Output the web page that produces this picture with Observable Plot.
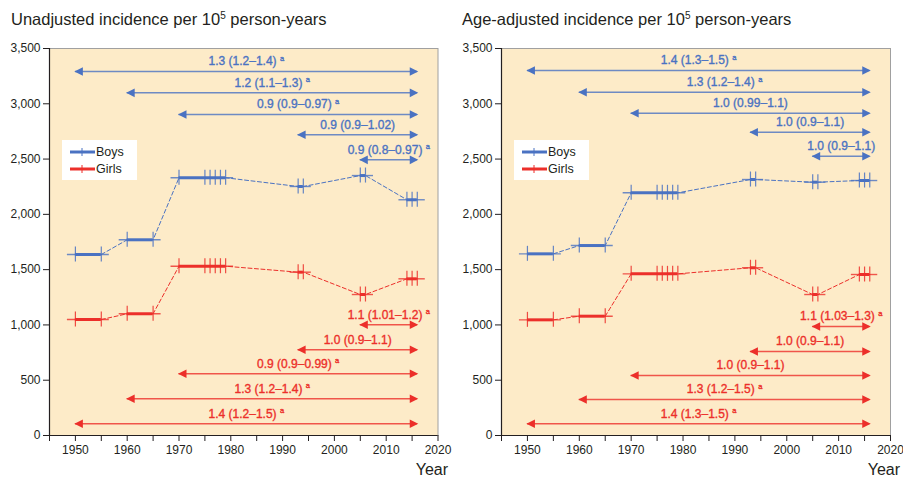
<!DOCTYPE html>
<html>
<head>
<meta charset="utf-8">
<script src="https://cdn.jsdelivr.net/npm/d3@7"></script>
<script src="https://cdn.jsdelivr.net/npm/@observablehq/plot@0.6"></script>
<style>
  body { margin: 0; background: #fff; font-family: "Liberation Sans", Arial, Helvetica, sans-serif; }
  #wrap { position: relative; width: 903px; height: 478px; overflow: hidden; }
  .panel { position: absolute; top: 0; height: 478px; }
  .title { position: absolute; top: 9px; font-size: 16.5px; line-height: 20px; color: #231f20; white-space: nowrap; }
  .title sup { font-size: 10px; line-height: 0; vertical-align: 6px; }
  .svgbox { position: absolute; top: 36px; left: 0; }
  .year { position: absolute; top: 461px; right: 3px; font-size: 16px; line-height: 18px; color: #231f20; }
  .legend { position: absolute; background: #fff; width: 75px; height: 40px; top: 140px; }
  .legend svg { position: absolute; left: 0; top: 0; }
</style>
</head>
<body>
<div id="wrap"></div>
<script>
// ---- Data ----
const titles = ["Unadjusted incidence per 10|5| person-years", "Age-adjusted incidence per 10|5| person-years"];
const seriesNames = ["Boys", "Girls"];
// survey years grouped by study period
const periodYears = [
  [1950, 1955],
  [1960, 1965],
  [1970, 1975, 1976, 1977, 1978, 1979],
  [1993, 1994],
  [2005, 2006],
  [2014, 2015, 2016]
];
// incidence per 100,000 person-years, one value per period
const unadjBoys  = [1637, 1770, 2331, 2252, 2351, 2132];
const unadjGirls = [1049, 1101, 1531, 1477, 1275, 1417];
const adjBoys    = [1643, 1718, 2195, 2315, 2291, 2306];
const adjGirls   = [1046, 1079, 1462, 1517, 1275, 1456];

// rate-ratio comparisons (period start year -> 2016)
const compareEnd = 2016;
const boysStarts  = [1950, 1960, 1970, 1993, 2005];
const girlsStarts = [2005, 1993, 1970, 1960, 1950];
const unadjBoysLevel  = [3292, 3099, 2903, 2720, 2493];
const unadjGirlsLevel = [1001, 775, 558, 332, 106];
const adjBoysLevel    = [3301, 3105, 2915, 2743, 2526];
const adjGirlsLevel   = [986, 760, 543, 326, 106];
const unadjBoysRR  = ["1.3 (1.2–1.4)", "1.2 (1.1–1.3)", "0.9 (0.9–0.97)", "0.9 (0.9–1.02)", "0.9 (0.8–0.97)"];
const unadjBoysSig = [true, true, true, false, true];
const unadjGirlsRR  = ["1.1 (1.01–1.2)", "1.0 (0.9–1.1)", "0.9 (0.9–0.99)", "1.3 (1.2–1.4)", "1.4 (1.2–1.5)"];
const unadjGirlsSig = [true, false, true, true, true];
const adjBoysRR  = ["1.4 (1.3–1.5)", "1.3 (1.2–1.4)", "1.0 (0.99–1.1)", "1.0 (0.9–1.1)", "1.0 (0.9–1.1)"];
const adjBoysSig = [true, true, false, false, false];
const adjGirlsRR  = ["1.1 (1.03–1.3)", "1.0 (0.9–1.1)", "1.0 (0.9–1.1)", "1.3 (1.2–1.5)", "1.4 (1.3–1.5)"];
const adjGirlsSig = [true, false, false, true, true];

// axes
const xDomain = [1945, 2020];
const yDomain = [0, 3500];
const xTicks = d3.range(1945, 2021, 5);
const yTicks = d3.range(0, 3501, 500);

// ---- Style ----
const BLUE = "#4a72c2";
const RED = "#ec2f2a";
const BG = "#fdebc8";
const INK = "#231f20";

const rightHead = { draw(ctx) { ctx.moveTo(1, 0); ctx.lineTo(-7.5, -4.3); ctx.lineTo(-7.5, 4.3); ctx.closePath(); } };
const leftHead  = { draw(ctx) { ctx.moveTo(-1, 0); ctx.lineTo(7.5, -4.3); ctx.lineTo(7.5, 4.3); ctx.closePath(); } };

function seriesMarks(values, color) {
  const groups = periodYears.map((ys, i) => ({ min: ys[0], max: ys[ys.length - 1], value: values[i], years: ys }));
  const ends = groups.flatMap(g => [{ x: g.min, y: g.value }, { x: g.max, y: g.value }]);
  const ticks = groups.flatMap(g => g.years.map(x => ({ x, y: g.value })));
  return [
    Plot.line(ends, { x: "x", y: "y", stroke: color, strokeWidth: 1, strokeDasharray: "4,2.5" }),
    Plot.ruleY(groups, { y: "value", x1: "min", x2: "max", insetLeft: -8, insetRight: -8, stroke: color, strokeWidth: 1.4, strokeOpacity: 0.8 }),
    Plot.ruleY(groups, { y: "value", x1: "min", x2: "max", stroke: color, strokeWidth: 3 }),
    Plot.ruleX(ticks, { x: "x", y1: "y", y2: "y", insetTop: -7.5, insetBottom: -7.5, stroke: color, strokeWidth: 1.2, strokeOpacity: 0.85 })
  ];
}

function arrowMarks(starts, levels, labels, sig, color) {
  const rows = starts.map((s, i) => ({ start: s, end: compareEnd, level: levels[i], label: labels[i] + (sig[i] ? "ᵃ" : ""), mid: (s + compareEnd) / 2 }));
  return [
    Plot.ruleY(rows, { y: "level", x1: "start", x2: "end", stroke: color, strokeWidth: 1.5, strokeOpacity: 0.8 }),
    Plot.dot(rows, { x: "start", y: "level", symbol: leftHead, fill: color, stroke: "none", r: 4 }),
    Plot.dot(rows, { x: "end", y: "level", symbol: rightHead, fill: color, stroke: "none", r: 4 }),
    Plot.text(rows, { x: "mid", y: "level", text: "label", dy: -10, fill: color, stroke: color, strokeWidth: 0.35, fontSize: 12 })
  ];
}

function makePanel(p) {
  const svg = Plot.plot({
    width: p.width, height: 442,
    marginLeft: p.marginLeft, marginRight: p.marginRight, marginTop: 12, marginBottom: 43,
    style: { fontFamily: '"Liberation Sans", Arial, sans-serif', fontSize: "12px", color: INK, background: "transparent", overflow: "visible" },
    x: { domain: xDomain },
    y: { domain: yDomain },
    marks: [
      Plot.frame({ fill: BG, stroke: "#a0a0a0", strokeWidth: 1 }),
      Plot.axisY({ ticks: yTicks, tickFormat: d3.format(","), tickSize: 6, tickPadding: 3, label: null, stroke: INK }),
      Plot.axisX({ ticks: xTicks, tickFormat: d => d % 10 === 0 ? String(d) : "", tickSize: 6, tickPadding: 4, label: null, stroke: INK }),
      Plot.ruleX([xDomain[0]], { stroke: INK, strokeWidth: 1.2 }),
      Plot.ruleY([yDomain[0]], { stroke: INK, strokeWidth: 1.2 }),
      ...arrowMarks(boysStarts, p.boysLevel, p.boysRR, p.boysSig, BLUE),
      ...arrowMarks(girlsStarts, p.girlsLevel, p.girlsRR, p.girlsSig, RED),
      ...seriesMarks(p.boys, BLUE),
      ...seriesMarks(p.girls, RED)
    ]
  });
  // superscript "a"
  d3.select(svg).selectAll("text").each(function () {
    const t = this.textContent;
    if (t.endsWith("ᵃ")) {
      const sel = d3.select(this);
      sel.text(t.slice(0, -1) + " ");
      sel.append("tspan").attr("font-size", 7.5).attr("dy", "-4.5").text("a");
    }
  });
  return svg;
}

const panels = [
  { left: 0, width: 451, marginLeft: 49, marginRight: 13.5, titleLeft: 11,
    boys: unadjBoys, girls: unadjGirls,
    boysLevel: unadjBoysLevel, girlsLevel: unadjGirlsLevel,
    boysRR: unadjBoysRR, boysSig: unadjBoysSig, girlsRR: unadjGirlsRR, girlsSig: unadjGirlsSig, title: titles[0] },
  { left: 451, width: 452, marginLeft: 50, marginRight: 13, titleLeft: 11,
    boys: adjBoys, girls: adjGirls,
    boysLevel: adjBoysLevel, girlsLevel: adjGirlsLevel,
    boysRR: adjBoysRR, boysSig: adjBoysSig, girlsRR: adjGirlsRR, girlsSig: adjGirlsSig, title: titles[1] }
];

const wrap = document.getElementById("wrap");
for (const p of panels) {
  const div = document.createElement("div");
  div.className = "panel";
  div.style.left = p.left + "px";
  div.style.width = p.width + "px";
  const [a, sup, b] = p.title.split("|");
  const title = document.createElement("div");
  title.className = "title";
  title.style.left = p.titleLeft + "px";
  title.append(a);
  const s = document.createElement("sup"); s.textContent = sup; title.append(s);
  title.append(b);
  div.append(title);

  const box = document.createElement("div");
  box.className = "svgbox";
  box.append(makePanel(p));
  div.append(box);

  const yr = document.createElement("div");
  yr.className = "year"; yr.textContent = "Year";
  div.append(yr);

  // legend
  const lg = document.createElement("div");
  lg.className = "legend";
  lg.style.left = (p.marginLeft + 13) + "px";
  const ls = d3.create("svg").attr("width", 75).attr("height", 40);
  [[BLUE, 12], [RED, 29]].forEach(([c, y], i) => {
    ls.append("line").attr("x1", 8).attr("x2", 33).attr("y1", y).attr("y2", y).attr("stroke", c).attr("stroke-width", 3);
    ls.append("line").attr("x1", 20).attr("x2", 20).attr("y1", y - 4).attr("y2", y + 4).attr("stroke", c).attr("stroke-width", 1);
    ls.append("text").attr("x", 34).attr("y", y).attr("dy", "0.35em").attr("font-size", 12.5).attr("fill", INK)
      .attr("font-family", '"Liberation Sans", Arial, sans-serif').text(seriesNames[i]);
  });
  lg.append(ls.node());
  div.append(lg);

  wrap.append(div);
}
</script>
</body>
</html>
